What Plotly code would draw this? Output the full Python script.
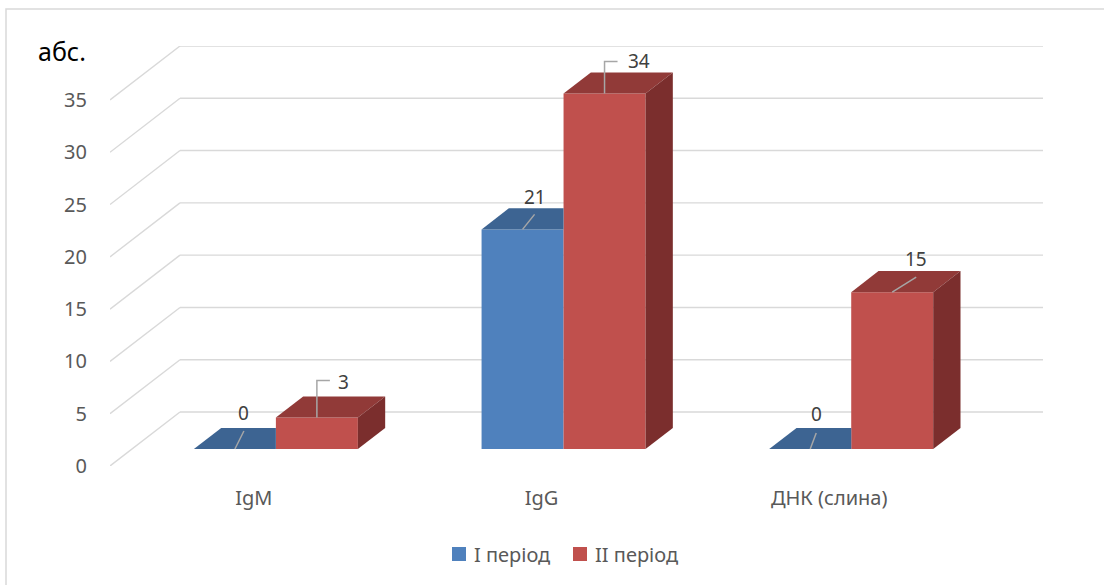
import plotly.graph_objects as go

# ---- data ----
categories = ["IgM", "IgG", "ДНК (слина)"]
series_names = ["I період", "II період"]
period_1 = [0, 21, 0]
period_2 = [3, 34, 15]
y_ticks = [0, 5, 10, 15, 20, 25, 30, 35]
y_title = "абс."

# ---- figure geometry (pixels) ----
W, H = 1104, 585
ML, MR, MT, MB = 110, 61, 46, 119
plot_w = W - ML - MR
plot_h = H - MT - MB
DEPTH_PX_X, DEPTH_PX_Y = 70, 54          # oblique offset of the back wall
n_cat = len(categories)
cat_px = (plot_w - DEPTH_PX_X) / n_cat   # pixels per category unit
DXu = DEPTH_PX_X / cat_px                # depth offset in x units
y_top_val = max(y_ticks)
DYu = DEPTH_PX_Y * y_top_val / (plot_h - DEPTH_PX_Y)   # depth offset in y units
ymax = y_top_val + DYu
unit_px = plot_h / ymax

BAR_W = 0.285      # bar width in category units
D0, D1 = 0.315, 0.705   # front / back depth of the bars (0 = front, 1 = back wall)

colors = {
    "front": ["#4F81BD", "#C0504D"],
    "top": ["#3D6492", "#913A38"],
    "side": ["#3A5F8C", "#7B2E2D"],
}
GRID = "#D9D9D9"
FONT = "Noto Sans"


def proj(xf, v, d):
    """Project a point (front-plane x, value, depth) onto the chart plane."""
    return xf + d * DXu, v + d * DYu


def px2x(p):
    return p / cat_px


def px2y(p):
    return p / unit_px


def paper_x(px):
    return (px - ML) / plot_w


def paper_y(py):
    return (MT + plot_h - py) / plot_h


fig = go.Figure()
shapes = []

# walls: diagonals on the side wall and horizontal lines on the back wall
for v in y_ticks:
    x0, y0 = proj(0, v, 0)
    x1, y1 = proj(0, v, 1)
    x2, y2 = proj(n_cat, v, 1)
    shapes.append(dict(type="line", xref="x", yref="y", x0=x0, y0=y0, x1=x1, y1=y1,
                       line=dict(color=GRID, width=1.4), layer="below"))
    shapes.append(dict(type="line", xref="x", yref="y", x0=x1, y0=y1, x1=x2, y1=y2,
                       line=dict(color=GRID, width=1.4), layer="below"))

centers = [i + 0.5 for i in range(n_cat)]
bar_x = [proj(c, 0, D0)[0] for c in centers]
base = proj(0, 0, D0)[1]

# front faces of the columns
for s, (name, vals) in enumerate(zip(series_names, [period_1, period_2])):
    fig.add_trace(go.Bar(
        x=bar_x, y=vals, base=[base] * n_cat, width=BAR_W,
        offset=-BAR_W if s == 0 else 0,
        marker=dict(color=colors["front"][s], line=dict(width=0)),
        name=name, showlegend=False,
    ))

# top and side faces
for s, vals in enumerate([period_1, period_2]):
    for i, v in enumerate(vals):
        c = centers[i]
        xl = c - BAR_W if s == 0 else c
        xr = c if s == 0 else c + BAR_W
        p1 = proj(xl, v, D0)
        p2 = proj(xr, v, D0)
        p3 = proj(xr, v, D1)
        p4 = proj(xl, v, D1)
        if s == 0:
            # right part of the first series' top is hidden by the neighbour column
            p3 = (p2[0], p3[1])
        xs = [p1[0], p2[0], p3[0], p4[0], p1[0]]
        ys = [p1[1], p2[1], p3[1], p4[1], p1[1]]
        fig.add_trace(go.Scatter(x=xs, y=ys, fill="toself", mode="lines",
                                 fillcolor=colors["top"][s], line=dict(width=0),
                                 hoverinfo="skip", showlegend=False))
        if s == 1:
            b1 = proj(xr, 0, D0)
            b2 = proj(xr, 0, D1)
            xs = [b1[0], p2[0], p3[0], b2[0], b1[0]]
            ys = [b1[1], p2[1], p3[1], b2[1], b1[1]]
            fig.add_trace(go.Scatter(x=xs, y=ys, fill="toself", mode="lines",
                                     fillcolor=colors["side"][s], line=dict(width=0),
                                     hoverinfo="skip", showlegend=False))

# data labels with leader lines (offsets in pixels from the top front edge centre)
label_style = {
    (0, 0): dict(leader=[(9, -18)], text=(9, -36)),
    (0, 1): dict(leader=[(12, -15)], text=(12, -32)),
    (0, 2): dict(leader=[(6, -16)], text=(6, -35)),
    (1, 0): dict(leader=[(0, -37), (13, -37)], text=(27, -36)),
    (1, 1): dict(leader=[(0, -32), (13, -32)], text=(34, -32)),
    (1, 2): dict(leader=[(24, -15)], text=(24, -33)),
}
annotations = []
for s, vals in enumerate([period_1, period_2]):
    for i, v in enumerate(vals):
        c = centers[i]
        mid = c - BAR_W / 2 if s == 0 else c + BAR_W / 2
        ax, ay = proj(mid, v, D0)
        st = label_style[(s, i)]
        lx = [ax] + [ax + px2x(dx) for dx, dy in st["leader"]]
        ly = [ay] + [ay - px2y(dy) for dx, dy in st["leader"]]
        fig.add_trace(go.Scatter(x=lx, y=ly, mode="lines",
                                 line=dict(color="#A6A6A6", width=1.5),
                                 hoverinfo="skip", showlegend=False))
        tx, ty = st["text"]
        annotations.append(dict(x=ax + px2x(tx), y=ay - px2y(ty), xref="x", yref="y",
                                xanchor="center", yanchor="middle",
                                text=str(v), showarrow=False,
                                font=dict(family=FONT, size=19, color="#404040")))

# axis title
annotations.append(dict(x=paper_x(62), y=paper_y(51), xref="paper", yref="paper",
                        xanchor="center", yanchor="middle",
                        text=y_title, showarrow=False,
                        font=dict(family=FONT, size=25, color="#000000")))

# legend
legend_items = [(452, 472), (573, 593)]
for s, (sq_x, tx_x) in enumerate(legend_items):
    sy = 554
    shapes.append(dict(type="rect", xref="paper", yref="paper",
                       x0=paper_x(sq_x), x1=paper_x(sq_x + 14),
                       y0=paper_y(sy + 7), y1=paper_y(sy - 7),
                       fillcolor=colors["front"][s], line=dict(width=0)))
    annotations.append(dict(x=paper_x(tx_x), y=paper_y(sy),
                            xref="paper", yref="paper", xanchor="left", yanchor="middle",
                            text=series_names[s], showarrow=False,
                            font=dict(family=FONT, size=20, color="#595959")))

# chart border
shapes.append(dict(type="rect", xref="paper", yref="paper",
                   x0=paper_x(6), x1=paper_x(W + 10),
                   y0=paper_y(H + 10), y1=paper_y(9),
                   line=dict(color=GRID, width=1.5), fillcolor="rgba(0,0,0,0)"))

fig.update_layout(
    width=W, height=H,
    margin=dict(l=ML, r=MR, t=MT, b=MB, pad=0),
    paper_bgcolor="white", plot_bgcolor="white",
    barmode="overlay",
    showlegend=False,
    shapes=shapes,
    annotations=annotations,
    xaxis=dict(range=[0, n_cat + DXu], tickvals=centers, ticktext=categories,
               showgrid=False, zeroline=False, showline=False, ticks="",
               ticklabelstandoff=18,
               tickfont=dict(family=FONT, size=20, color="#595959")),
    yaxis=dict(range=[0, ymax], tickvals=y_ticks, showgrid=False, zeroline=False,
               showline=False, ticks="", ticklabelstandoff=22,
               tickfont=dict(family=FONT, size=20, color="#595959")),
)

fig.write_html("out.html")
